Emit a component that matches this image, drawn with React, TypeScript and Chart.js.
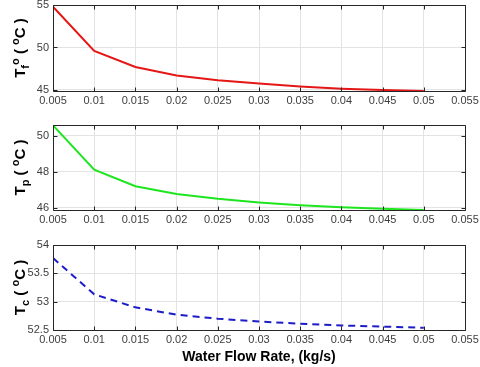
import React, { useEffect, useRef } from "react";
import { Chart, registerables } from "chart.js";
Chart.register(...registerables);

const flowRates = [0.005, 0.01, 0.015, 0.02, 0.025, 0.03, 0.035, 0.04, 0.045, 0.05];
const xTicks = [0.005, 0.01, 0.015, 0.02, 0.025, 0.03, 0.035, 0.04, 0.045, 0.05, 0.055];
const xTickLabels = ["0.005", "0.01", "0.015", "0.02", "0.025", "0.03", "0.035", "0.04", "0.045", "0.05", "0.055"];
const tfoValues = [54.8, 49.6, 47.7, 46.7, 46.15, 45.75, 45.4, 45.15, 45.0, 44.88];
const tpValues = [50.58, 48.12, 47.2, 46.77, 46.5, 46.3, 46.14, 46.03, 45.95, 45.88];
const tcValues = [53.77, 53.13, 52.9, 52.77, 52.7, 52.65, 52.61, 52.58, 52.56, 52.54];
const tfoTicks = [45, 50, 55];
const tpTicks = [46, 48, 50];
const tcTicks = [52.5, 53, 53.5, 54];
const xTitle = "Water Flow Rate, (kg/s)";

type Seg = { t: string; kind: "n" | "sub" | "sup" };
const tfoLabel: Seg[] = [
  { t: "T", kind: "n" }, { t: "f", kind: "sub" }, { t: "o", kind: "sup" },
  { t: " ( ", kind: "n" }, { t: "o", kind: "sup" }, { t: "C )", kind: "n" },
];
const tpLabel: Seg[] = [
  { t: "T", kind: "n" }, { t: "p", kind: "sub" },
  { t: " ( ", kind: "n" }, { t: "o", kind: "sup" }, { t: "C )", kind: "n" },
];
const tcLabel: Seg[] = [
  { t: "T", kind: "n" }, { t: "c", kind: "sub" },
  { t: " ( ", kind: "n" }, { t: "o", kind: "sup" }, { t: "C )", kind: "n" },
];

const FONT = "'Liberation Sans', Arial, sans-serif";

type Panel = {
  top: number;
  height: number;
  padTop: number;
  xH: number;
  values: number[];
  yTicks: number[];
  yMin: number;
  yMax: number;
  color: string;
  dash: number[];
  label: Seg[];
  showXTitle: boolean;
};

const panels: Panel[] = [
  { top: 0, height: 115, padTop: 5, xH: 24, values: tfoValues, yTicks: tfoTicks, yMin: 44.88, yMax: 55, color: "#e41616", dash: [], label: tfoLabel, showXTitle: false },
  { top: 115, height: 120, padTop: 10, xH: 25, values: tpValues, yTicks: tpTicks, yMin: 45.88, yMax: 50.6, color: "#1ee61e", dash: [], label: tpLabel, showXTitle: false },
  { top: 235, height: 132, padTop: 10, xH: 37, values: tcValues, yTicks: tcTicks, yMin: 52.5, yMax: 54, color: "#1c1cc8", dash: [7, 5], label: tcLabel, showXTitle: true },
];

function makeDecor(p: Panel) {
  return {
    id: "decor",
    afterDraw(chart: any) {
      const ctx = chart.ctx as CanvasRenderingContext2D;
      const a = chart.chartArea;
      const xs = chart.scales.x;
      const ys = chart.scales.y;
      ctx.save();
      ctx.strokeStyle = "#262626";
      ctx.lineWidth = 1;
      ctx.beginPath();
      const L = Math.round(a.left) + 0.5, R = Math.round(a.right) + 0.5;
      const T = Math.round(a.top) + 0.5, B = Math.round(a.bottom) + 0.5;
      ctx.rect(L, T, R - L, B - T);
      const tl = 4;
      for (const v of xTicks) {
        const x = Math.round(xs.getPixelForValue(v)) + 0.5;
        ctx.moveTo(x, B); ctx.lineTo(x, B - tl);
        ctx.moveTo(x, T); ctx.lineTo(x, T + tl);
      }
      for (const v of p.yTicks) {
        const y = Math.round(ys.getPixelForValue(v)) + 0.5;
        ctx.moveTo(L, y); ctx.lineTo(L + tl, y);
        ctx.moveTo(R, y); ctx.lineTo(R - tl, y);
      }
      ctx.stroke();

      // y title with sub/superscripts
      const big = 15, small = 11;
      ctx.fillStyle = "#000";
      ctx.textBaseline = "alphabetic";
      ctx.textAlign = "left";
      let total = 0;
      const widths = p.label.map((s) => {
        ctx.font = `bold ${s.kind === "n" ? big : small}px ${FONT}`;
        const w = ctx.measureText(s.t).width;
        total += w;
        return w;
      });
      const cx = 25;
      const cy = (a.top + a.bottom) / 2;
      ctx.translate(cx, cy);
      ctx.rotate(-Math.PI / 2);
      let x = -total / 2;
      p.label.forEach((s, i) => {
        ctx.font = `bold ${s.kind === "n" ? big : small}px ${FONT}`;
        const dy = s.kind === "sub" ? 4 : s.kind === "sup" ? -6 : 0;
        ctx.fillText(s.t, x, dy);
        x += widths[i];
      });
      ctx.restore();

      if (p.showXTitle) {
        ctx.save();
        ctx.font = `bold 14px ${FONT}`;
        ctx.fillStyle = "#000";
        ctx.textAlign = "center";
        ctx.textBaseline = "middle";
        ctx.fillText(xTitle, (a.left + a.right) / 2, 122);
        ctx.restore();
      }
    },
  };
}

function PanelChart({ p }: { p: Panel }) {
  const ref = useRef<HTMLCanvasElement>(null);
  useEffect(() => {
    if (!ref.current) return;
    const chart = new Chart(ref.current, {
      type: "line",
      data: {
        datasets: [
          {
            data: flowRates.map((x, i) => ({ x, y: p.values[i] })),
            borderColor: p.color,
            borderWidth: 2,
            borderDash: p.dash,
            pointRadius: 0,
            fill: false,
            tension: 0,
          },
        ],
      },
      options: {
        animation: false,
        responsive: false,
        devicePixelRatio: 1,
        layout: { padding: { left: 0, right: 15, top: p.padTop, bottom: 0 } },
        plugins: { legend: { display: false }, tooltip: { enabled: false } },
        scales: {
          x: {
            type: "linear",
            min: 0.005,
            max: 0.055,
            afterBuildTicks: (s: any) => { s.ticks = xTicks.map((v) => ({ value: v })); },
            afterFit: (s: any) => { s.height = p.xH; s.paddingLeft = 0; s.paddingRight = 0; },
            ticks: {
              callback: (v: any) => { const i = xTicks.findIndex((t) => Math.abs(t - v) < 1e-9); return i >= 0 ? xTickLabels[i] : ""; },
              font: { family: FONT, size: 11 },
              color: "#404040",
              padding: 3,
              maxRotation: 0,
              autoSkip: false,
            },
            grid: { color: "#e3e3e3", drawTicks: false, lineWidth: 1 },
            border: { display: false },
          },
          y: {
            type: "linear",
            min: p.yMin,
            max: p.yMax,
            afterBuildTicks: (s: any) => { s.ticks = p.yTicks.map((v) => ({ value: v })); },
            afterFit: (s: any) => { s.width = 53; s.paddingTop = 0; s.paddingBottom = 0; },
            ticks: {
              callback: (v: any) => String(v),
              font: { family: FONT, size: 11 },
              color: "#404040",
              padding: 4,
              autoSkip: false,
            },
            grid: { color: "#e3e3e3", drawTicks: false, lineWidth: 1 },
            border: { display: false },
          },
        },
      },
      plugins: [makeDecor(p)],
    } as any);
    return () => chart.destroy();
  }, []);
  return (
    <div style={{ position: "absolute", left: 0, top: p.top, width: 480, height: p.height }}>
      <canvas ref={ref} width={480} height={p.height} style={{ width: 480, height: p.height, display: "block" }} />
    </div>
  );
}

export default function App() {
  return (
    <div style={{ position: "absolute", left: 0, top: 0, width: 480, height: 367, background: "#fff" }}>
      {panels.map((p, i) => (
        <PanelChart key={i} p={p} />
      ))}
    </div>
  );
}
